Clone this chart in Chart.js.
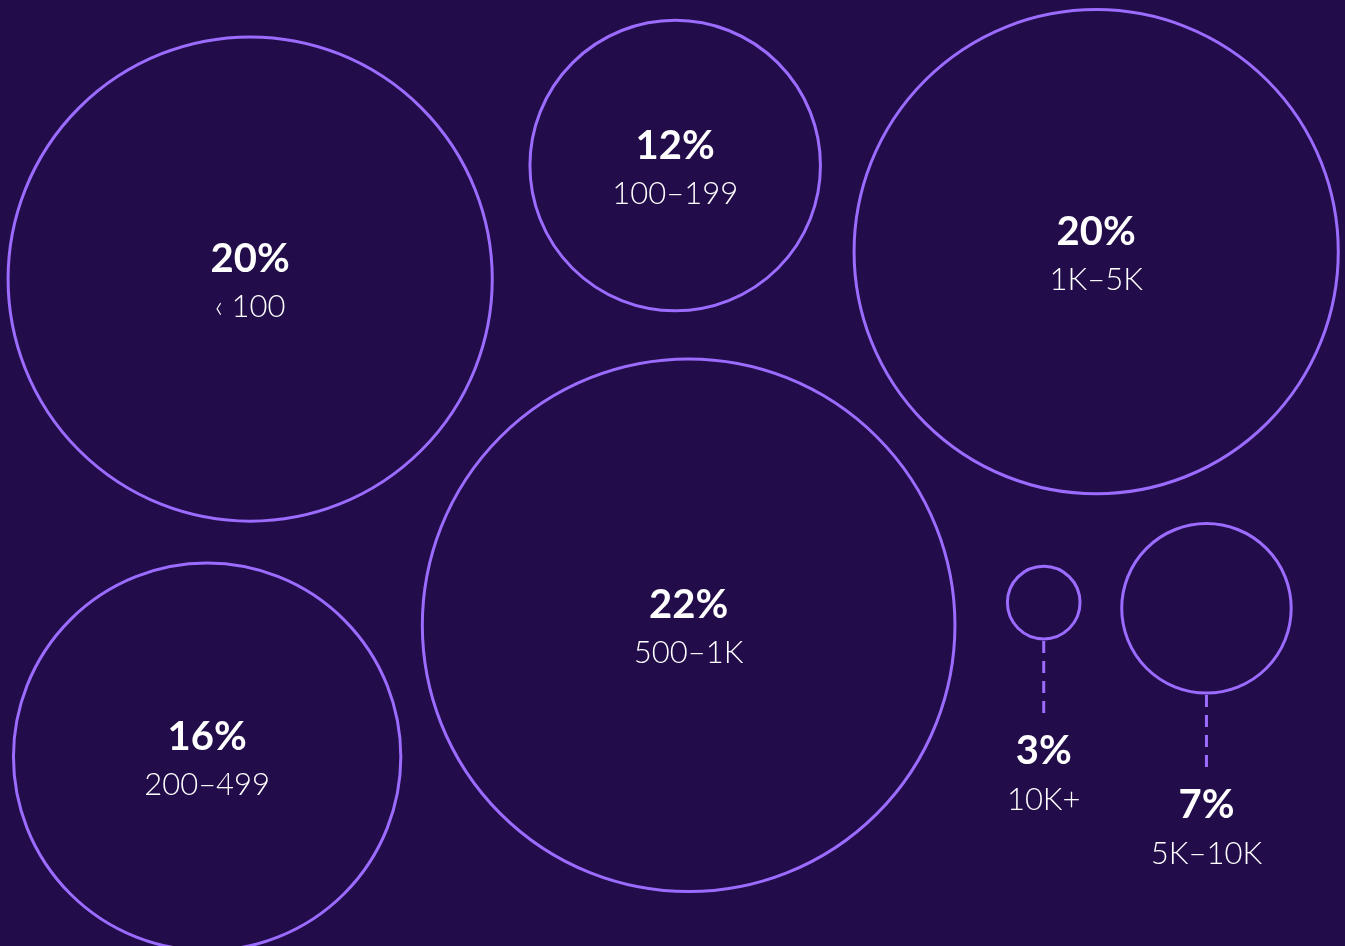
<!DOCTYPE html>
<html>
<head>
<meta charset="utf-8">
<script src="https://cdn.jsdelivr.net/npm/chart.js@4"></script>
<style>
  html, body { margin: 0; padding: 0; background: #220c4a; }
  #wrap { width: 1345px; height: 946px; }
</style>
</head>
<body>
<div id="wrap"><canvas id="bubbleChart" width="1345" height="946"></canvas></div>
<script>
// company size buckets and their share
const categories = ['‹ 100', '100–199', '1K–5K', '500–1K', '200–499', '10K+', '5K–10K'];
const shares = [20, 12, 20, 22, 16, 3, 7];
// packed layout, in units of 0..100 on both hidden axes
const layoutX = [18.6, 50.2, 81.5, 51.2, 15.4, 77.6, 89.7];
const layoutY = [29.5, 17.5, 26.6, 66.1, 80.0, 63.7, 64.3];

const purple = '#9b6cff';
const bg = '#220c4a';

const labelPlugin = {
  id: 'bubbleLabels',
  afterDatasetsDraw(chart) {
    const ctx = chart.ctx;
    const meta = chart.getDatasetMeta(0);
    ctx.save();
    ctx.textAlign = 'center';
    ctx.textBaseline = 'alphabetic';
    ctx.fillStyle = '#ffffff';
    meta.data.forEach((pt, i) => {
      const r = pt.options.radius;
      let pctY, catY;
      if (shares[i] < 10) {
        const bottom = pt.y + r + 2;
        ctx.strokeStyle = purple;
        ctx.lineWidth = 3;
        ctx.setLineDash([12, 8]);
        ctx.beginPath();
        ctx.moveTo(pt.x, bottom);
        ctx.lineTo(pt.x, bottom + 78);
        ctx.stroke();
        ctx.setLineDash([]);
        pctY = pt.y + r + 125;
        catY = pt.y + r + 171;
      } else {
        pctY = pt.y - 7;
        catY = pt.y + 38;
      }
      ctx.font = 'bold 40px Lato';
      ctx.fillText(shares[i] + '%', pt.x, pctY);
      ctx.font = '300 31px Lato';
      ctx.fillText(categories[i], pt.x, catY);
    });
    ctx.restore();
  }
};

new Chart(document.getElementById('bubbleChart'), {
  type: 'bubble',
  data: {
    labels: categories,
    datasets: [{
      data: layoutX.map((x, i) => ({ x: x, y: layoutY[i] })),
      radius: (c) => shares[c.dataIndex] * c.chart.width * 0.009,
      backgroundColor: bg,
      borderColor: purple,
      borderWidth: 3,
      hoverBorderWidth: 3,
      clip: false
    }]
  },
  options: {
    responsive: false,
    animation: false,
    events: [],
    layout: { padding: 0, autoPadding: false },
    plugins: {
      legend: { display: false },
      tooltip: { enabled: false }
    },
    scales: {
      x: { display: false, min: 0, max: 100 },
      y: { display: false, min: 0, max: 100, reverse: true }
    }
  },
  plugins: [labelPlugin]
});
</script>
</body>
</html>
